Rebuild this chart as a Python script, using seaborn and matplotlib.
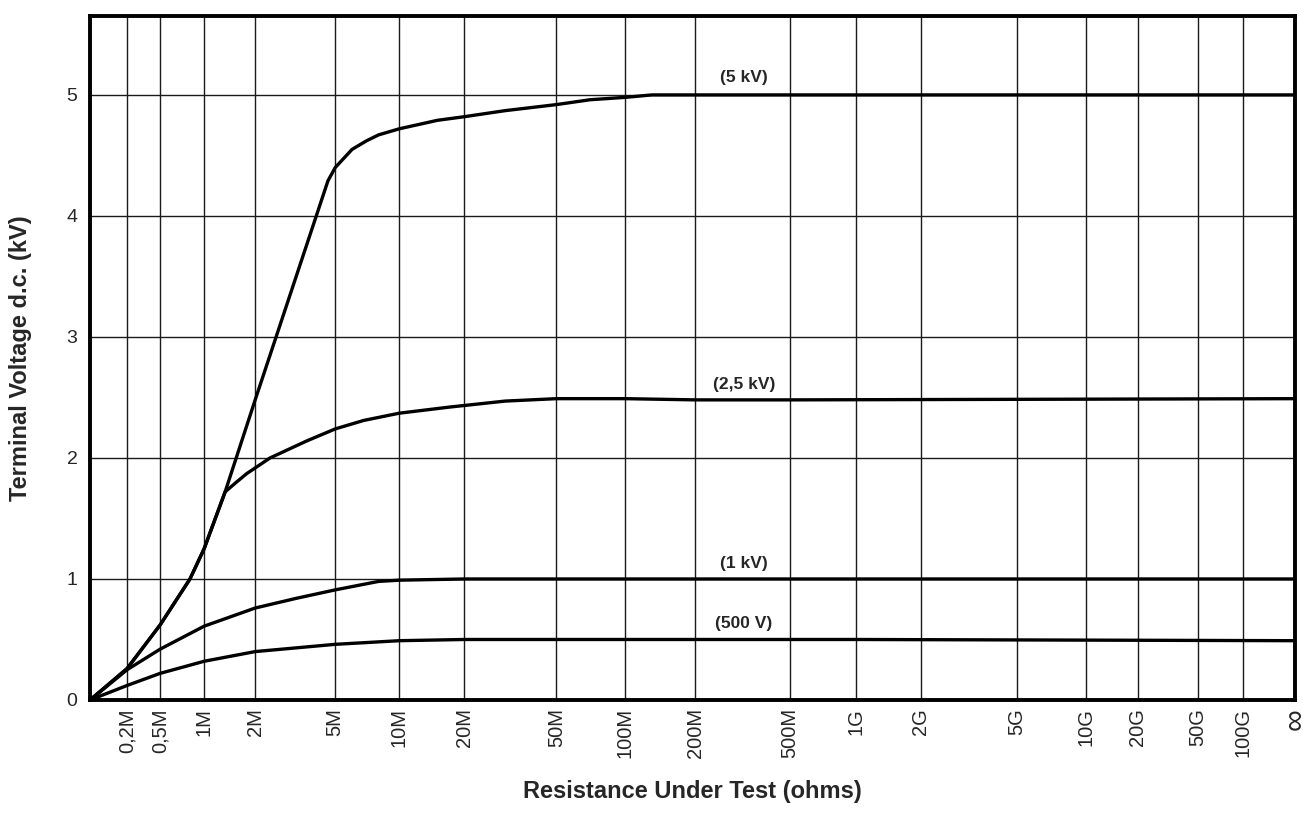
import numpy as np
import pandas as pd
import matplotlib
matplotlib.use("Agg")
import matplotlib.pyplot as plt
import seaborn as sns

R_INF = 1e12  # stands in for the open-circuit (infinity) column

# resistance ticks, their labels and where each gridline sits across the
# hand-drawn, non-uniform x axis (0 = left edge, 1204 = right edge)
tick_ohms = [0, 2e5, 5e5, 1e6, 2e6, 5e6, 1e7, 2e7, 5e7, 1e8, 2e8, 5e8,
             1e9, 2e9, 5e9, 1e10, 2e10, 5e10, 1e11, R_INF]
tick_labels = ["", "0,2M", "0,5M", "1M", "2M", "5M", "10M", "20M", "50M",
               "100M", "200M", "500M", "1G", "2G", "5G", "10G", "20G",
               "50G", "100G", "\u221e"]
grid_pos = [0, 37, 70, 114, 165, 245, 309, 374, 466, 535, 605, 699, 765,
            830, 926, 995, 1047, 1107, 1152, 1204]

# curves (ohms, kV)
r_5kv = [0, 2e5, 5e5, 8e5, 1e6, 1.33e6, 2e6, 4.6e6, 5e6, 6e6, 7e6, 8e6,
         1e7, 1.5e7, 2e7, 3e7, 5e7, 7e7, 1e8, 1.3e8, 2e8, 1e9, R_INF]
v_5kv = [0, 0.26, 0.62, 1.0, 1.25, 1.72, 2.48, 4.29, 4.40, 4.55, 4.62, 4.67,
         4.72, 4.79, 4.82, 4.87, 4.92, 4.96, 4.98, 5.0, 5.0, 5.0, 5.0]

r_2kv5 = [0, 2e5, 5e5, 8e5, 1e6, 1.33e6, 1.55e6, 1.78e6, 2.37e6, 3.6e6,
          5e6, 6.8e6, 1e7, 1.7e7, 3e7, 5e7, 1e8, 2e8, 5e8, R_INF]
v_2kv5 = [0, 0.26, 0.62, 1.0, 1.25, 1.72, 1.80, 1.87, 2.0, 2.14,
          2.24, 2.31, 2.37, 2.42, 2.47, 2.49, 2.49, 2.48, 2.48, 2.49]

r_1kv = [0, 2e5, 5e5, 1e6, 2e6, 3.2e6, 5e6, 8e6, 1e7, 2e7, 1e8, 1e9, R_INF]
v_1kv = [0, 0.25, 0.42, 0.61, 0.76, 0.84, 0.91, 0.98, 0.99, 1.0, 1.0, 1.0, 1.0]

r_500v = [0, 2e5, 5e5, 1e6, 2e6, 5e6, 1e7, 2e7, 1e8, 1e9, R_INF]
v_500v = [0, 0.12, 0.22, 0.32, 0.40, 0.46, 0.49, 0.50, 0.50, 0.50, 0.49]

curve_names = ["(5 kV)", "(2,5 kV)", "(1 kV)", "(500 V)"]
label_ohms = 3.2e8
label_kv = [5.14, 2.61, 1.13, 0.63]

df = pd.concat([
    pd.DataFrame({"ohms": r, "kV": v, "curve": n})
    for r, v, n in zip([r_5kv, r_2kv5, r_1kv, r_500v],
                       [v_5kv, v_2kv5, v_1kv, v_500v], curve_names)
], ignore_index=True)

# piecewise-log scale matching the printed grid
_keys = np.concatenate([[4.7], np.log10(np.array(tick_ohms[1:], float))])
_pos = np.array(grid_pos, float)


def fwd(r):
    r = np.asarray(r, float)
    k = np.log10(np.where(r > 0, r, 1.0))
    k = np.where(r > 0, k, _keys[0])
    return np.interp(k, _keys, _pos)


def inv(p):
    p = np.asarray(p, float)
    k = np.interp(p, _pos, _keys)
    return np.where(p > 0, 10.0 ** k, 0.0)


sns.set_style("white")
plt.rcParams["font.family"] = ["Liberation Sans", "DejaVu Sans"]

fig = plt.figure(figsize=(13.11, 8.13), dpi=100)
ax = fig.add_axes([0.0687, 0.139, 0.919, 0.841])

sns.lineplot(data=df, x="ohms", y="kV", units="curve", estimator=None,
             color="black", lw=2.4, sort=False, ax=ax, zorder=3)

ax.set_xscale("function", functions=(fwd, inv))
ax.set_xlim(0, R_INF)
ax.set_ylim(0, 5.65)

ax.set_xticks(tick_ohms)
ax.set_xticklabels(tick_labels, rotation=90, fontsize=14.5)
ax.set_yticks(range(6))
ax.set_yticklabels([str(i) for i in range(6)], fontsize=14)
ax.tick_params(axis="both", length=0)
ax.tick_params(axis="x", pad=6)
ax.tick_params(axis="y", pad=9)
ax.get_xticklabels()[-1].set_fontsize(22)

ax.grid(True, color="#1a1a1a", lw=1.0)
for s in ax.spines.values():
    s.set_color("black")
    s.set_linewidth(2.8)

for name, y in zip(curve_names, label_kv):
    ax.text(label_ohms, y, name, ha="center", va="center",
            fontsize=12.5, fontweight="bold")

ax.set_xlabel("Resistance Under Test (ohms)", fontsize=17, fontweight="bold")
ax.set_ylabel("Terminal Voltage d.c. (kV)", fontsize=17, fontweight="bold")
ax.xaxis.set_label_coords(0.5, -0.117)
ax.yaxis.set_label_coords(-0.048, 0.5)

fig.savefig("out.png", dpi=100)
